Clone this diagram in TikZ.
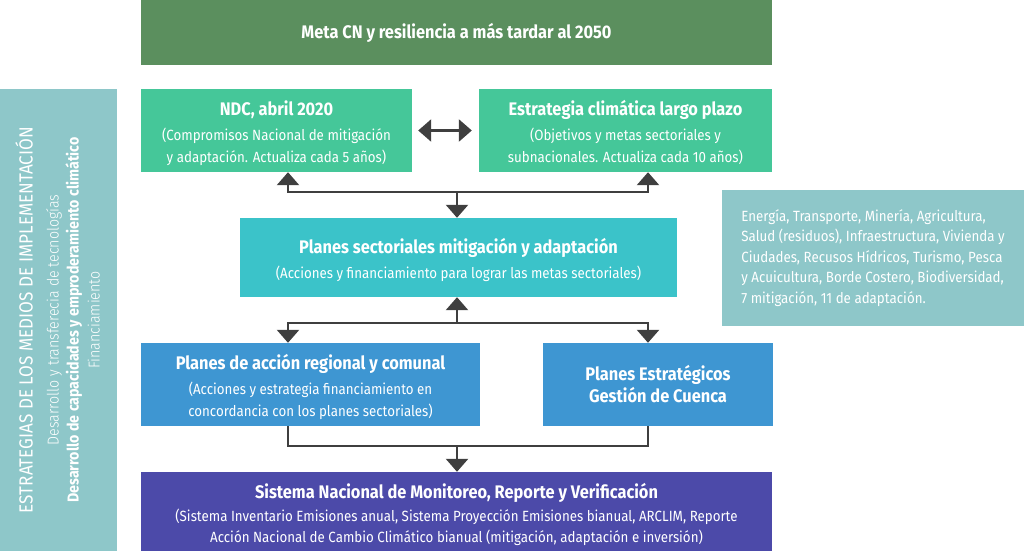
\documentclass[tikz,border=0pt]{standalone}
\usepackage{fontspec}
\setmainfont{Fira Sans}[FakeStretch=0.9]
\newfontfamily\lightfont{Fira Sans Light}[FakeStretch=0.9]
\usepackage{xcolor}
\usepackage{tikz}
\usetikzlibrary{arrows.meta}

\definecolor{metagreen}{HTML}{5B8F5E}
\definecolor{ndcgreen}{HTML}{45C799}
\definecolor{sectcyan}{HTML}{3BC3C9}
\definecolor{planblue}{HTML}{3E96D2}
\definecolor{mrvpurple}{HTML}{4C4AA9}
\definecolor{sidegray}{HTML}{8EC7C9}
\definecolor{linkgray}{HTML}{3F3F3F}

\newcommand{\boxtitle}[1]{{\bfseries\fontsize{18.2}{25}\selectfont #1}}
% raised title: extra room above pushes the lines down a little
\newcommand{\lowtitle}[2][20pt]{\rule{0pt}{#1}\boxtitle{#2}}

\tikzset{
    box/.style={fill=#1, text=white, inner sep=0pt, align=center,
        font=\fontsize{14.8}{22}\selectfont},
    link/.style={draw=linkgray, line width=2.6pt},
    tip/.tip={Triangle[width=22pt,length=13pt]}
}

\begin{document}
\begin{tikzpicture}[x=1pt, y=-1pt]
                        \useasboundingbox (0,0) rectangle (1024,551);

                        \node[box=metagreen, minimum width=631pt, minimum height=65pt] (meta) at (456.5,32.5) {\boxtitle{Meta CN y resiliencia a más tardar al 2050}};

                        \node[box=sidegray, minimum width=117pt, minimum height=462pt] (bar) at (58.5,320) {};
                        \node[text=white, align=center, rotate=90, inner sep=0pt, font=\fontsize{15.8}{21}\selectfont] (medios) at ([xshift=-1pt]bar.center) {{\fontsize{19}{21}\selectfont ESTRATEGIAS DE LOS MEDIOS DE IMPLEMENTACIÓN}\\[5pt]
                            {\lightfont Desarrollo y transferecia de tecnologías}\\[-1pt]
                            {\bfseries Desarrollo de capacidades y emproderamiento climático}\\
                            {\lightfont Financiamiento}};

                        \node[box=ndcgreen, minimum width=271pt, minimum height=83pt] (ndc) at (276.5,130.5) {\lowtitle{NDC, abril 2020}\\[3pt](Compromisos Nacional de mitigación\\y adaptación. Actualiza cada 5 años)};
                        \node[box=ndcgreen, minimum width=293pt, minimum height=83pt] (elp) at (625.5,130.5) {\lowtitle{Estrategia climática largo plazo}\\[3pt](Objetivos y metas sectoriales y\\subnacionales. Actualiza cada 10 años)};

                        \node[box=sectcyan, minimum width=437pt, minimum height=79pt] (sect) at (458.5,257.5) {\lowtitle{Planes sectoriales mitigación y adaptación}\\[3pt](Acciones y financiamiento para lograr las metas sectoriales)};

                        \node[box=sidegray, minimum width=302pt, minimum height=136pt, align=left, font=\fontsize{14.8}{20.5}\selectfont] (sectores) at (873,258) {Energía, Transporte, Minería, Agricultura,\\Salud (residuos), Infraestructura, Vivienda y\\Ciudades, Recusos Hídricos, Turismo, Pesca\\y Acuicultura, Borde Costero, Biodiversidad,\\7 mitigación, 11 de adaptación.};

                        \node[box=planblue, minimum width=339pt, minimum height=83pt] (regional) at (310.5,384.5) {\lowtitle{Planes de acción regional y comunal}\\[3pt](Acciones y estrategia financiamiento en\\concordancia con los planes sectoriales)};
                        \node[box=planblue, minimum width=230pt, minimum height=83pt] (cuenca) at (658,384.5) {\boxtitle{Planes Estratégicos}\\\boxtitle{Gestión de Cuenca}};

                        \node[box=mrvpurple, minimum width=631pt, minimum height=79pt, font=\fontsize{14.8}{21.5}\selectfont] (mrv) at (456.5,511.5) {\lowtitle[22pt]{Sistema Nacional de Monitoreo, Reporte y Verificación}\\[1pt](Sistema Inventario Emisiones anual, Sistema Proyección Emisiones bianual, ARCLIM, Reporte\\Acción Nacional de Cambio Climático bianual (mitigación, adaptación e inversión)};

                        \coordinate (ja) at (288,192);
                        \coordinate (jb) at (648,192);
                        \coordinate (jc) at (457,192);
                        \coordinate (jd) at (288,323);
                        \coordinate (je) at (648,323);
                        \coordinate (jf) at (457,323);
                        \coordinate (jg) at (288,446);
                        \coordinate (jh) at (648,446);
                        \coordinate (ji) at (457,446);

                        \draw[link, tip-tip, shorten <=6pt, shorten >=7pt] (ndc) to (elp);

                        \draw[link, tip-tip] (ja |- ndc.south) -- (ja) -- (jb) -- (jb |- elp.south);
                        \draw[link, -tip] (jc) -- (jc |- sect.north);

                        \draw[link, -tip] (jf) -- (jf |- sect.south);
                        \draw[link, tip-tip] (jd |- regional.north) -- (jd) -- (je) -- (je |- cuenca.north);

                        \draw[link] (jg |- regional.south) -- (jg) -- (jh) -- (jh |- cuenca.south);
                        \draw[link, -tip] (ji) -- (ji |- mrv.north);
                    \end{tikzpicture}
\end{document}
